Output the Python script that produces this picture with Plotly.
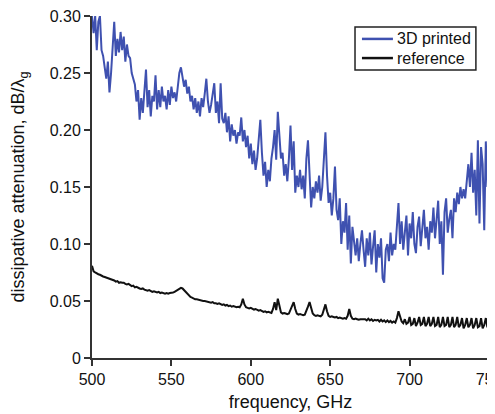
import plotly.graph_objects as go

freq_ghz = list(range(500, 751))

printed_3d = [
    0.300, 0.285, 0.300, 0.270, 0.295, 0.300,
    0.270, 0.265, 0.255, 0.245, 0.260, 0.233,
    0.250, 0.270, 0.295, 0.265, 0.280, 0.268, 0.286, 0.270,
    0.282, 0.260, 0.275, 0.265, 0.263, 0.250, 0.245,
    0.240, 0.225, 0.235, 0.209, 0.228, 0.215, 0.235,
    0.253, 0.220, 0.235, 0.212, 0.230, 0.225, 0.248,
    0.218, 0.235, 0.220, 0.238, 0.225, 0.230, 0.218,
    0.235, 0.222, 0.238, 0.228, 0.233, 0.225, 0.240,
    0.250, 0.255, 0.245, 0.238, 0.244, 0.232, 0.238,
    0.225, 0.230, 0.218, 0.228, 0.215, 0.225, 0.212,
    0.228, 0.220, 0.232, 0.245, 0.225, 0.215, 0.222,
    0.230, 0.241, 0.215, 0.225, 0.206, 0.241, 0.210,
    0.206, 0.215, 0.198, 0.212, 0.190, 0.205, 0.195,
    0.200, 0.188, 0.198, 0.195, 0.211, 0.190, 0.200,
    0.185, 0.195, 0.175, 0.188, 0.170, 0.182, 0.165,
    0.175, 0.190, 0.209, 0.180, 0.160, 0.172, 0.150,
    0.165, 0.155, 0.175, 0.185, 0.200, 0.174, 0.216,
    0.190, 0.175, 0.180, 0.160, 0.170, 0.155, 0.175,
    0.204, 0.165, 0.190, 0.145, 0.160, 0.150, 0.165,
    0.148, 0.160, 0.140, 0.175, 0.191, 0.165, 0.132,
    0.150, 0.140, 0.155, 0.145, 0.160, 0.138, 0.150,
    0.175, 0.198, 0.160, 0.136, 0.145, 0.125, 0.140,
    0.168, 0.130, 0.121, 0.140, 0.100, 0.120, 0.110,
    0.136, 0.095, 0.125, 0.083, 0.115, 0.100, 0.090,
    0.105, 0.085, 0.100, 0.112, 0.095, 0.080, 0.105,
    0.090, 0.110, 0.082, 0.098, 0.112, 0.075, 0.100,
    0.088, 0.105, 0.070, 0.066, 0.095, 0.100, 0.085,
    0.110, 0.090, 0.100, 0.095, 0.120, 0.136, 0.100,
    0.120, 0.095, 0.113, 0.125, 0.090, 0.118, 0.105,
    0.128, 0.100, 0.092, 0.115, 0.124, 0.098, 0.112,
    0.130, 0.105, 0.115, 0.095, 0.120, 0.110, 0.132,
    0.105, 0.125, 0.138, 0.100, 0.120, 0.073, 0.128,
    0.140, 0.110, 0.122, 0.130, 0.105, 0.140, 0.128,
    0.145, 0.135, 0.150, 0.140, 0.148, 0.140, 0.155,
    0.170, 0.150, 0.180, 0.145, 0.165, 0.125, 0.191,
    0.118, 0.185, 0.170, 0.112, 0.190, 0.150, 0.175,
]

reference = [
    0.081, 0.076, 0.075, 0.074, 0.0735, 0.073, 0.072, 0.0715, 0.071, 0.0705,
    0.070, 0.070, 0.069, 0.0685, 0.068, 0.067, 0.0675, 0.066, 0.0665, 0.066,
    0.066, 0.065, 0.0645, 0.065, 0.064, 0.063, 0.0635, 0.062, 0.0625, 0.0615,
    0.061, 0.0605, 0.061, 0.060, 0.0595, 0.059, 0.0595, 0.0585, 0.058, 0.0585,
    0.058, 0.0575, 0.058, 0.057, 0.0575, 0.057, 0.0565, 0.057, 0.0565, 0.057,
    0.057, 0.0575, 0.058, 0.059, 0.060, 0.061, 0.0615, 0.061, 0.0595, 0.058,
    0.057, 0.055, 0.0535, 0.053, 0.052, 0.0515, 0.0515, 0.051, 0.0505, 0.0505,
    0.050, 0.050, 0.0495, 0.049, 0.049, 0.0485, 0.049, 0.048, 0.048, 0.0475,
    0.048, 0.047, 0.0465, 0.047, 0.046, 0.0465, 0.0455, 0.046, 0.045, 0.0455,
    0.045, 0.0445, 0.045, 0.0445, 0.047, 0.052, 0.047, 0.0445, 0.044, 0.0435,
    0.044, 0.043, 0.0425, 0.043, 0.042, 0.0415, 0.042, 0.041, 0.0405, 0.041,
    0.040, 0.0405, 0.040, 0.0395, 0.043, 0.049, 0.042, 0.052, 0.046, 0.040,
    0.039, 0.0395, 0.039, 0.0385, 0.039, 0.042, 0.046, 0.049, 0.043, 0.039,
    0.038, 0.0385, 0.038, 0.0375, 0.038, 0.041, 0.045, 0.049, 0.043, 0.039,
    0.0375, 0.037, 0.0375, 0.037, 0.0365, 0.038, 0.042, 0.047, 0.041, 0.037,
    0.036, 0.0365, 0.036, 0.0355, 0.036, 0.035, 0.0355, 0.035, 0.0345, 0.035,
    0.0345, 0.037, 0.043, 0.037, 0.0345, 0.034, 0.0345, 0.034, 0.0335, 0.034,
    0.034, 0.0335, 0.034, 0.033, 0.0345, 0.033, 0.034, 0.0325, 0.0335, 0.033,
    0.0335, 0.032, 0.0335, 0.032, 0.033, 0.0315, 0.033, 0.0315, 0.0325, 0.031,
    0.032, 0.031, 0.035, 0.041, 0.036, 0.032, 0.0305, 0.034, 0.030, 0.031,
    0.036, 0.029, 0.030, 0.035, 0.028, 0.031, 0.036, 0.029, 0.030, 0.036,
    0.028, 0.030, 0.036, 0.028, 0.030, 0.036, 0.028, 0.029, 0.036, 0.027,
    0.029, 0.036, 0.028, 0.029, 0.036, 0.027, 0.029, 0.036, 0.027, 0.029,
    0.036, 0.027, 0.029, 0.035, 0.026, 0.029, 0.035, 0.027, 0.029, 0.035,
    0.026, 0.029, 0.035, 0.027, 0.028, 0.035, 0.026, 0.029, 0.035, 0.027,
    0.030,
]

series_names = ["3D printed", "reference"]
series_colors = ["#3f51b0", "#111111"]

y_ticks = [0, 0.05, 0.10, 0.15, 0.20, 0.25, 0.30]
y_tick_labels = ["0", "0.05", "0.10", "0.15", "0.20", "0.25", "0.30"]
x_ticks = [500, 550, 600, 650, 700, 750]

FONT = "Liberation Sans, Arial, Helvetica, sans-serif"

fig = go.Figure()
for name, ys, col in zip(series_names, [printed_3d, reference], series_colors):
    fig.add_trace(go.Scatter(x=freq_ghz, y=ys, mode="lines", name=name,
                             line=dict(color=col, width=2), showlegend=False))

# compact boxed legend (paper coordinates)
box_x0, box_x1, box_y0, box_y1 = 0.6625, 0.967, 0.842, 0.968
fig.add_shape(type="rect", xref="paper", yref="paper",
              x0=box_x0, x1=box_x1, y0=box_y0, y1=box_y1,
              line=dict(color="#222222", width=1.5), fillcolor="white", layer="above")
item_y = [0.933, 0.877]
for name, col, yy in zip(series_names, series_colors, item_y):
    fig.add_shape(type="line", xref="paper", yref="paper",
                  x0=0.680, x1=0.758, y0=yy, y1=yy,
                  line=dict(color=col, width=2.5), layer="above")
    fig.add_annotation(xref="paper", yref="paper", x=0.762, y=yy, text=name,
                       showarrow=False, xanchor="left", yanchor="middle",
                       font=dict(size=16, color="#111111"))

# page body has an 8px margin, so the figure is drawn 8px right/down
fig.update_layout(
    width=487, height=406,
    margin=dict(l=84, r=6, t=8, b=56, autoexpand=False),
    paper_bgcolor="white", plot_bgcolor="white",
    font=dict(family=FONT, size=16, color="#111111"),
    showlegend=False,
    xaxis=dict(range=[500, 750], tickvals=x_ticks, ticks="outside", ticklen=6,
               tickwidth=2, tickcolor="#333333", showline=True, linecolor="#333333",
               linewidth=2, showgrid=False, zeroline=False, ticklabeloverflow="allow",
               automargin=False,
               title=dict(text="frequency, GHz", font=dict(size=18), standoff=8)),
    yaxis=dict(range=[0, 0.30], tickvals=y_ticks, ticktext=y_tick_labels,
               ticks="outside", ticklen=6, tickwidth=2, tickcolor="#333333",
               showline=True, linecolor="#333333", linewidth=2, showgrid=False,
               zeroline=False, automargin=False, ticklabeloverflow="allow",
               title=dict(text="dissipative attenuation, dB/λ<sub>g</sub>",
                          font=dict(size=18), standoff=20)),
)

fig.write_html("out.html")
